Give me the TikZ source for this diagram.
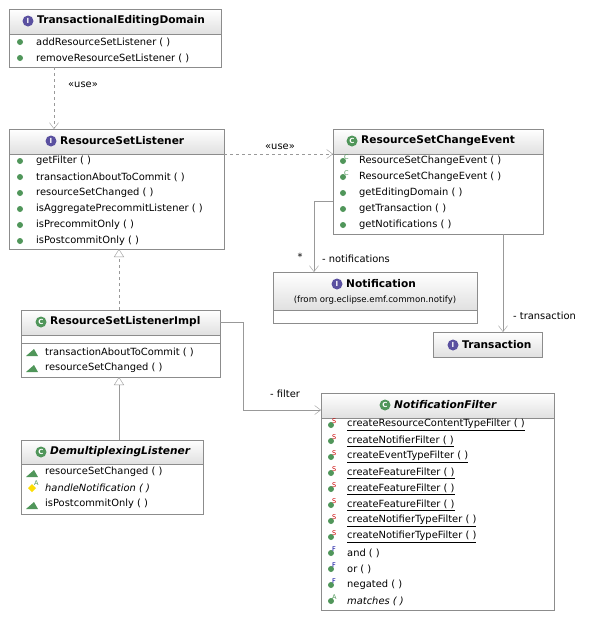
\documentclass[tikz,border=0pt]{standalone}
\usepackage{fontspec}
\setmainfont{DejaVu Sans}
\usetikzlibrary{arrows.meta}
\tikzset{
 box/.style={draw=black!45,fill=white},
 head/.style={draw=black!45,top color=white,bottom color=black!12},
 txt/.style={anchor=west,inner sep=0pt,font=\fontsize{9.9}{11}\selectfont},
 ttl/.style={inner sep=0pt,font=\fontsize{10.6}{12}\selectfont\bfseries},
 dep/.style={draw=black!40,dashed,-{Straight Barb[length=6pt,width=9pt]}},
 asc/.style={draw=black!40,-{Straight Barb[length=6pt,width=9pt]}},
 gen/.style={draw=black!40,-{Triangle[open,length=8pt,width=10pt,fill=white]}},
 lbl/.style={inner sep=0pt,font=\fontsize{9.9}{11}\selectfont},
}
\definecolor{mg}{RGB}{80,150,90}
\definecolor{ip}{RGB}{90,80,160}
\newcommand\mrow[5]{% name, x, y, modifier, text
 \fill[mg] (#2+10,#3) circle (3pt);
 \node[anchor=south west,inner sep=0pt,font=\fontsize{6.5}{6.5}\selectfont] at (#2+11,#3-1) {#4};
 \node[txt] (#1) at (#2+26,#3) {#5};}
\newcommand\ricon{[4]}
\renewcommand\ricon[4]{% x,y,color,letter
 \fill[#3] (#1,#2) circle (5.5pt);
 \node[inner sep=0pt,text=white,font=\fontsize{7}{7}\selectfont\bfseries] at (#1,#2) {#4};}
\begin{document}
\begin{tikzpicture}[x=1pt,y=-1pt]
\useasboundingbox[fill=white] (0,0) rectangle (607,622);
% TransactionalEditingDomain
\draw[box] (9,9) rectangle (221,67);
\shade[head] (9,9) rectangle (221,34);
\ricon{28}{21}{ip}{I}
\node[ttl,anchor=west] (ted) at (37,21) {TransactionalEditingDomain};
\mrow{t1}{10}{42}{}{addResourceSetListener ( )}
\mrow{t2}{10}{58}{}{removeResourceSetListener ( )}
% ResourceSetListener
\draw[box] (9,129) rectangle (224,249);
\shade[head] (9,129) rectangle (224,154);
\ricon{51}{141}{ip}{I}
\node[ttl,anchor=west] (rsl) at (60,141) {ResourceSetListener};
\mrow{r1}{10}{161}{}{getFilter ( )}
\mrow{r2}{10}{177}{}{transactionAboutToCommit ( )}
\mrow{r3}{10}{193}{}{resourceSetChanged ( )}
\mrow{r4}{10}{209}{}{isAggregatePrecommitListener ( )}
\mrow{r5}{10}{225}{}{isPrecommitOnly ( )}
\mrow{r6}{10}{241}{}{isPostcommitOnly ( )}
% ResourceSetChangeEvent
\draw[box] (333,129) rectangle (543,234);
\shade[head] (333,129) rectangle (543,154);
\ricon{352}{141}{mg}{C}
\node[ttl,anchor=west] (rsce) at (361,141) {ResourceSetChangeEvent};
\mrow{e1}{333}{161}{\textcolor{mg}{C}}{ResourceSetChangeEvent ( )}
\mrow{e2}{333}{177}{\textcolor{mg}{C}}{ResourceSetChangeEvent ( )}
\mrow{e3}{333}{193}{}{getEditingDomain ( )}
\mrow{e4}{333}{209}{}{getTransaction ( )}
\mrow{e5}{333}{225}{}{getNotifications ( )}
% Notification
\draw[box] (273,272) rectangle (477,323);
\shade[head] (273,272) rectangle (477,310);
\draw[draw=black!45] (273,310) -- (477,310);
\ricon{337}{284}{ip}{I}
\node[ttl,anchor=west] (notif) at (346,284) {Notification};
\node[lbl,font=\fontsize{8.6}{10}\selectfont] (notfrom) at (375,300) {(from org.eclipse.emf.common.notify)};
% Transaction
\shade[head] (433,332) rectangle (542,357);
\draw[draw=black!45] (433,332) rectangle (542,357);
\ricon{453}{345}{ip}{I}
\node[ttl,anchor=west] (trans) at (462,345) {Transaction};
% ResourceSetListenerImpl
\draw[box] (21,310) rectangle (220,377);
\shade[head] (21,310) rectangle (220,335);
\draw[draw=black!45] (21,343) -- (220,343);
\ricon{41}{322}{mg}{C}
\node[ttl,anchor=west] (impl) at (50,322) {ResourceSetListenerImpl};
\fill[mg] (26,356) -- (38,356) -- (34,349) -- cycle;
\node[txt] (i1) at (45,352) {transactionAboutToCommit ( )};
\fill[mg] (26,372) -- (38,372) -- (34,365) -- cycle;
\node[txt] (i2) at (45,368) {resourceSetChanged ( )};
% DemultiplexingListener
\draw[box] (21,440) rectangle (203,514);
\shade[head] (21,440) rectangle (203,464);
\ricon{41}{452}{mg}{C}
\node[ttl,anchor=west,font=\fontsize{10.6}{12}\selectfont\bfseries\itshape] (demux) at (50,452) {DemultiplexingListener};
\fill[mg] (26,477) -- (38,477) -- (34,470) -- cycle;
\node[txt] (d1) at (45,472) {resourceSetChanged ( )};
\fill[yellow!80!orange] (32,484) -- (36,488) -- (32,492) -- (28,488) -- cycle;
\node[anchor=south west,inner sep=0pt,font=\fontsize{6.5}{6.5}\selectfont,text=mg] at (34,486) {A};
\node[txt,font=\fontsize{9.9}{11}\selectfont\itshape] (d2) at (45,488) {handleNotification ( )};
\fill[mg] (26,509) -- (38,509) -- (34,502) -- cycle;
\node[txt] (d3) at (45,504) {isPostcommitOnly ( )};
% NotificationFilter
\draw[box] (321,393) rectangle (554,610);
\shade[head] (321,393) rectangle (554,418);
\ricon{385}{405}{mg}{C}
\node[ttl,anchor=west,font=\fontsize{10.6}{12}\selectfont\bfseries\itshape] (nf) at (394,405) {NotificationFilter};
\mrow{f1}{321}{425}{\textcolor{red!80!black}{S}}{\underline{createResourceContentTypeFilter ( )}}
\mrow{f2}{321}{441}{\textcolor{red!80!black}{S}}{\underline{createNotifierFilter ( )}}
\mrow{f3}{321}{457}{\textcolor{red!80!black}{S}}{\underline{createEventTypeFilter ( )}}
\mrow{f4}{321}{473}{\textcolor{red!80!black}{S}}{\underline{createFeatureFilter ( )}}
\mrow{f5}{321}{489}{\textcolor{red!80!black}{S}}{\underline{createFeatureFilter ( )}}
\mrow{f6}{321}{505}{\textcolor{red!80!black}{S}}{\underline{createFeatureFilter ( )}}
\mrow{f7}{321}{521}{\textcolor{red!80!black}{S}}{\underline{createNotifierTypeFilter ( )}}
\mrow{f8}{321}{537}{\textcolor{red!80!black}{S}}{\underline{createNotifierTypeFilter ( )}}
\mrow{f9}{321}{553}{\textcolor{blue!60!black}{F}}{and ( )}
\mrow{f10}{321}{569}{\textcolor{blue!60!black}{F}}{or ( )}
\mrow{f11}{321}{585}{\textcolor{blue!60!black}{F}}{negated ( )}
\mrow{f12}{321}{601}{\textcolor{mg}{A}}{\textit{matches ( )}}
% connectors
\coordinate (a1) at (54,67); \coordinate (a2) at (54,129);
\draw[dep] (a1) -- (a2);
\node[lbl] (u1) at (83,85) {«use»};
\coordinate (b1) at (224,154); \coordinate (b2) at (333,154);
\draw[dep] (b1) -- (b2);
\node[lbl] (u2) at (280,147) {«use»};
\coordinate (c1) at (333,201); \coordinate (c2) at (314,272);
\draw[asc] (c1) -| (c2);
\node[lbl] (star) at (300,257) {*};
\node[lbl,anchor=west] (lnot) at (322,259) {- notifications};
\coordinate (g1) at (503,234); \coordinate (g2) at (503,332);
\draw[asc] (g1) -- (g2);
\node[lbl,anchor=west] (ltr) at (513,316) {- transaction};
\coordinate (h1) at (119,310); \coordinate (h2) at (119,249);
\draw[gen,dashed] (h1) -- (h2);
\coordinate (k1) at (119,440); \coordinate (k2) at (119,377);
\draw[gen] (k1) -- (k2);
\coordinate (m1) at (220,322); \coordinate (m2) at (243,410); \coordinate (m3) at (321,410);
\draw[asc] (m1) -| (m2) -- (m3);
\node[lbl,anchor=west] (lf) at (270,394) {- filter};
\end{tikzpicture}
\end{document}
